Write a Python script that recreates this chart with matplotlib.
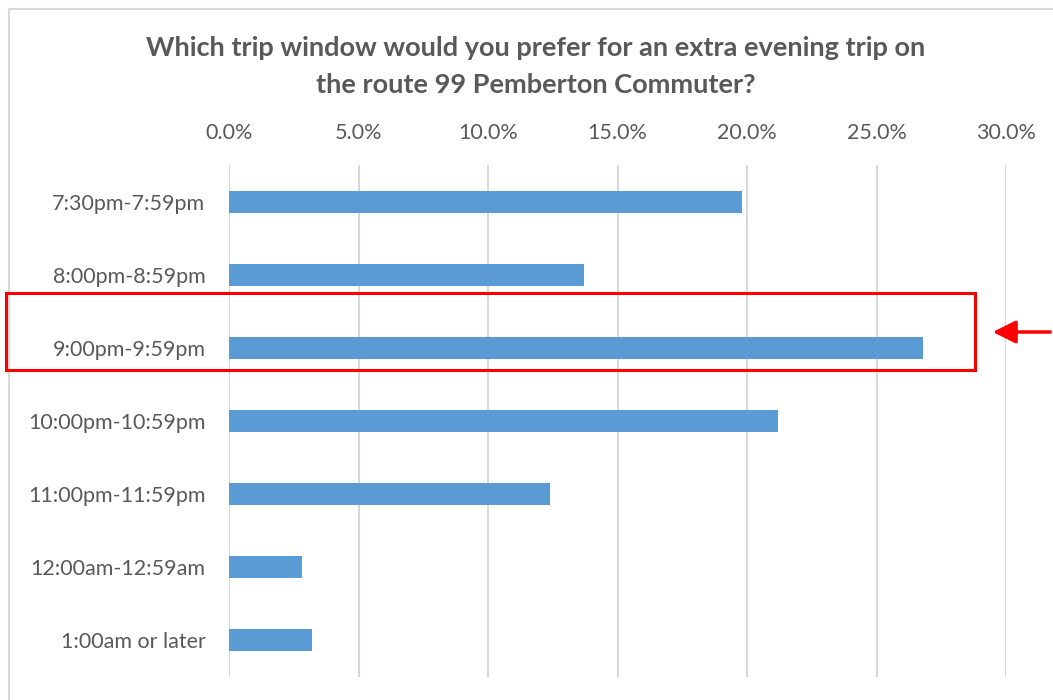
import matplotlib.pyplot as plt
from matplotlib.patches import Rectangle, FancyArrowPatch
from matplotlib.ticker import PercentFormatter

plt.rcParams['font.family'] = ['Lato', 'DejaVu Sans']

# Data
windows = ['7:30pm-7:59pm', '8:00pm-8:59pm', '9:00pm-9:59pm', '10:00pm-10:59pm',
           '11:00pm-11:59pm', '12:00am-12:59am', '1:00am or later']
share = [19.8, 13.7, 26.8, 21.2, 12.4, 2.8, 3.2]

fig = plt.figure(figsize=(10.53, 7), dpi=100, facecolor='white')

# outer chart border (light gray, cut off at right/bottom)
fig.patches.append(Rectangle((9/1053, -0.1), 1.2, 1 - 9/700 + 0.1, transform=fig.transFigure,
                             fill=False, edgecolor='#d9d9d9', lw=1.5))

ax = fig.add_axes([229/1053, 1 - 677/700, (1006 - 229)/1053, (677 - 165)/700])
y = list(range(len(windows)))
ax.barh(y, share, height=0.3, color='#5b9bd5', zorder=3)
ax.set_xlim(0, 30)
ax.set_ylim(len(windows) - 0.5, -0.5)
ax.set_yticks(y)
ax.set_yticklabels(windows)
ax.set_xticks([0, 5, 10, 15, 20, 25, 30])
ax.xaxis.set_major_formatter(PercentFormatter(decimals=1))
ax.xaxis.tick_top()
ax.tick_params(axis='both', length=0, labelsize=15.5, colors='#595959')
ax.tick_params(axis='x', pad=16)
ax.tick_params(axis='y', pad=17)
ax.grid(axis='x', color='#d9d9d9', lw=1.5, zorder=0)
for s in ax.spines.values():
    s.set_visible(False)

fig.text(0.509, 1 - 48/700, 'Which trip window would you prefer for an extra evening trip on',
         ha='center', va='center', fontsize=19.5, weight='bold', color='#595959')
fig.text(0.509, 1 - 85/700, 'the route 99 Pemberton Commuter?',
         ha='center', va='center', fontsize=19.5, weight='bold', color='#595959')

# highlight box + arrow
fig.patches.append(Rectangle((6/1053, 1 - 370/700), (975 - 6)/1053, 77/700,
                             transform=fig.transFigure, fill=False, edgecolor='#ff0000', lw=2.2))
fig.patches.append(FancyArrowPatch((1053/1053, 1 - 332/700), (990/1053, 1 - 332/700),
                                   transform=fig.transFigure, arrowstyle='-|>,head_length=14,head_width=7',
                                   color='#ff0000', lw=2.5, mutation_scale=1))

fig.savefig('out.png', dpi=100)
